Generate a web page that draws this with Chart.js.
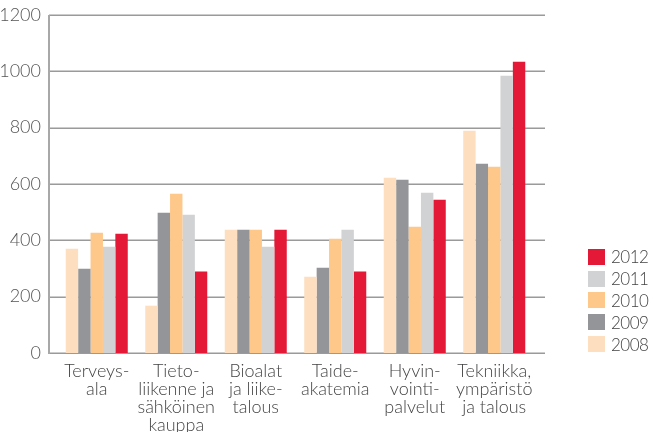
<!DOCTYPE html>
<html lang="fi">
<head>
  <meta charset="UTF-8">
  <title>Hakijat koulutusaloittain</title>
  <script src="https://cdn.jsdelivr.net/npm/chart.js@4.4.1/dist/chart.umd.min.js"></script>
  <style>
    body { margin: 0; background: #fff; }
    #wrap { position: relative; width: 650px; height: 432px; overflow: hidden; }
    #legend { position: absolute; left: 588px; top: 246px; font: 300 17px Lato, sans-serif; color: #444; letter-spacing: -0.5px; }
    #legend div { height: 21.8px; display: flex; align-items: center; white-space: nowrap; }
    #legend span.box { width: 17px; height: 16px; margin-right: 6px; display: inline-block; flex: none; }
  </style>
</head>
<body>
  <div id="wrap">
    <canvas id="myChart" width="650" height="432"></canvas>
    <div id="legend"></div>
  </div>
  <script>
    const categories = [
      ['Terveys-', 'ala'],
      ['Tieto-', 'liikenne ja', 'sähköinen', 'kauppa'],
      ['Bioalat', 'ja liike-', 'talous'],
      ['Taide-', 'akatemia'],
      ['Hyvin-', 'vointi-', 'palvelut'],
      ['Tekniikka,', 'ympäristö', 'ja talous']
    ];
    const years = ['2008', '2009', '2010', '2011', '2012'];
    const v2008 = [370, 168, 438, 271, 622, 789];
    const v2009 = [299, 498, 438, 303, 615, 672];
    const v2010 = [427, 565, 438, 406, 448, 661];
    const v2011 = [377, 491, 377, 438, 569, 984];
    const v2012 = [423, 289, 438, 289, 544, 1034];
    const colors = ['#FDDFBF', '#949598', '#FEC88A', '#D1D2D4', '#E41937'];

    const series = [v2008, v2009, v2010, v2011, v2012];
    const font = { family: 'Lato, sans-serif', size: 18, weight: 300, lineHeight: 1 };

    // horizontal rules and y axis line run a bit wider than the bar area
    const frame = {
      id: 'frame',
      beforeDatasetsDraw(chart) {
        const { ctx, chartArea, scales } = chart;
        const x0 = chartArea.left - 8, x1 = chartArea.right + 11;
        ctx.save();
        ctx.strokeStyle = '#9a9a9a';
        ctx.lineWidth = 1.5;
        scales.y.ticks.forEach(t => {
          const y = Math.round(scales.y.getPixelForValue(t.value)) + 0.25;
          ctx.beginPath();
          ctx.moveTo(x0, y);
          ctx.lineTo(x1, y);
          ctx.stroke();
        });
        ctx.strokeStyle = '#a8a8a8';
        ctx.lineWidth = 2;
        ctx.beginPath();
        ctx.moveTo(x0, scales.y.getPixelForValue(1200));
        ctx.lineTo(x0, scales.y.getPixelForValue(0) + 1);
        ctx.stroke();
        ctx.restore();
      }
    };

    const ctx = document.getElementById('myChart').getContext('2d');
    const myChart = new Chart(ctx, {
      type: 'bar',
      data: {
        labels: categories,
        datasets: years.map((y, i) => ({
          label: y,
          data: series[i],
          backgroundColor: colors[i],
          borderWidth: 0,
          barPercentage: 1,
          categoryPercentage: 0.78
        }))
      },
      options: {
        responsive: false,
        animation: false,
        layout: { padding: { top: 15, right: 116, left: 0, bottom: 0 } },
        plugins: { legend: { display: false }, tooltip: { enabled: false } },
        scales: {
          x: {
            grid: { display: false, drawTicks: false },
            border: { display: false },
            ticks: { color: '#444', font: font, padding: 9, autoSkip: false, maxRotation: 0, minRotation: 0 },
            afterFit(scale) { scale.height = 79; }
          },
          y: {
            min: 0,
            max: 1200,
            grid: { display: false, drawTicks: false },
            border: { display: false },
            ticks: { stepSize: 200, color: '#555', font: font, padding: 16, callback: v => String(v) },
            afterFit(scale) {
              scale.width = 57;
              scale.paddingTop = 0;
              scale.paddingBottom = 0;
            }
          }
        }
      },
      plugins: [frame]
    });

    // legend, newest year first
    const legend = document.getElementById('legend');
    years.slice().reverse().forEach(y => {
      const i = years.indexOf(y);
      const row = document.createElement('div');
      row.innerHTML = '<span class="box" style="background:' + colors[i] + '"></span>' + y;
      legend.appendChild(row);
    });
  </script>
</body>
</html>
